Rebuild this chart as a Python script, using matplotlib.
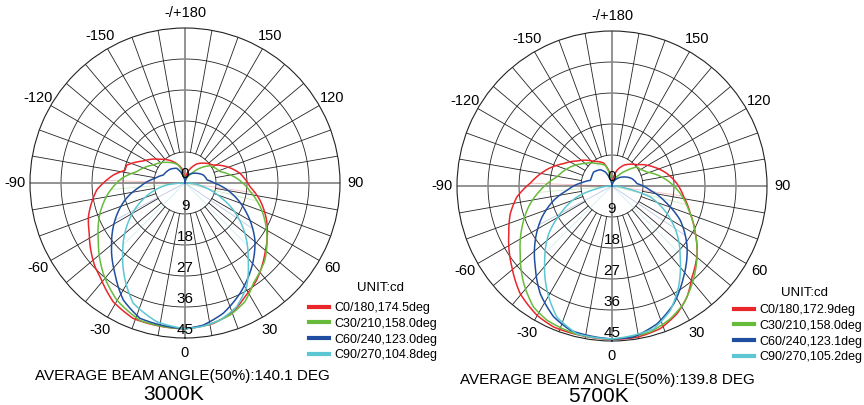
import numpy as np
import matplotlib.pyplot as plt

plt.rcParams['font.family'] = ['Liberation Sans', 'DejaVu Sans']

ring_values = [9, 18, 27, 36, 45]
angle_ticks = [0, 30, 60, 90, 120, 150, 180, -150, -120, -90, -60, -30]
angle_labels = ['0', '30', '60', '90', '120', '150', '-/+180',
                '-150', '-120', '-90', '-60', '-30']

series_names = ['C0/180', 'C30/210', 'C60/240', 'C90/270']
series_colors = ['#e8262b', '#67bb3b', '#1f4ea1', '#5cc6d3']

# ---- 3000K ----
warm_beam = [174.5, 158.0, 123.0, 104.8]
warm_avg = 140.1
warm_c0_ang = [-180, -167, -151, -133.5, -117.8, -107, -102, -96.4, -85.5, -70.8, -62.3,
               -47, -42.2, -31.1, -20.9, -10, 0, 11.4, 20.6, 27.8, 36.5, 48.7, 65.6,
               77.2, 86.7, 100, 111.4, 122.5, 148.4, 165, 180]
warm_c0_cd = [0, 4.4, 7.1, 10.0, 13.7, 17.7, 17.8, 20.9, 25.7, 29.7, 31.4,
              35.7, 36.7, 40.3, 42.1, 42.2, 42.3, 41.6, 39.9, 37.3, 35.0, 30.9, 26.0,
              22.3, 18.9, 16.2, 13.0, 9.7, 6.5, 3.5, 0]
warm_c30_ang = [-180, -170, -159.6, -138.5, -119.6, -103.2, -94.2, -82.3, -70.4, -56.7,
                -42.1, -30.3, -18, 0, 10, 18.8, 26.8, 34.3, 46.1, 58.4, 70.6, 81.2,
                95.2, 108, 118, 124.7, 145, 165, 180]
warm_c30_cd = [0, 2.5, 5.6, 8.0, 10.6, 14.4, 18.4, 22.5, 26.2, 30.1,
               35.4, 39.3, 42.0, 42.3, 41.6, 40.5, 38.6, 35.2, 32.2, 27.9, 23.6, 19.6,
               15.1, 10.7, 9.6, 8.8, 3.4, 1.0, 0]
warm_c60_ang = [-180, -170, -161, -150.5, -132.4, -110.2, -98.9, -85.3, -74.2, -62.1,
                -50.6, -37.8, -27.8, -18.4, 0, 7.3, 16.4, 26.5, 38.6, 50.8, 63.8, 76,
                89.4, 97.7, 113.6, 129.7, 157.6, 170, 180]
warm_c60_cd = [0, 1.5, 3.0, 4.9, 5.9, 6.7, 8.8, 13.1, 18.1, 23.0,
               27.6, 33.2, 38.4, 41.4, 42.3, 41.6, 39.4, 35.8, 31.1, 26.2, 20.0, 14.5,
               8.7, 6.5, 5.8, 4.4, 2.5, 1.0, 0]
warm_c90_ang = [-90, -83.8, -73.6, -63.9, -53.2, -41.5, -31.7, -23.3, -11.5, 0, 7.3,
                14.3, 22.7, 30.8, 39.4, 50, 60.8, 68.6, 78.6, 90]
warm_c90_cd = [0.5, 5.3, 10.6, 15.6, 21.2, 27.3, 33.1, 38.0, 41.1, 42.3, 41.9,
               41.1, 38.9, 35.0, 28.9, 22.7, 16.1, 10.9, 5.4, 0.5]

# ---- 5700K ----
cool_beam = [172.9, 158.0, 123.1, 105.2]
cool_avg = 139.8
cool_c0_ang = [-180, -168, -160, -143.4, -125.5, -114.8, -105.3, -92.1, -83.4, -74.8,
               -65.2, -51, -40.4, -30.1, -22.5, -12, 0, 9.4, 18.7, 27, 34, 41.3, 51.5,
               60.2, 70.5, 81.3, 92, 102.6, 114.5, 130.5, 150.6, 162.3, 180]
cool_c0_cd = [0, 4.6, 7.1, 8.9, 12.5, 15.5, 19.1, 23.7, 27.8, 30.6,
              33.0, 37.4, 41.1, 43.4, 44.3, 44.3, 44.5, 44.5, 43.7, 41.6, 38.9, 35.2, 31.6,
              27.9, 24.1, 21.1, 18.9, 16.4, 13.3, 9.5, 6.9, 4.8, 0]
cool_c30_ang = [-180, -169, -162.1, -146.1, -128.2, -114.5, -99.3, -86.5, -75.9, -65.5,
                -53.6, -42.1, -32.9, -25.8, -14.4, 0, 14.7, 23.7, 31.3, 39.3, 50.1, 60.2,
                72.4, 83.6, 95.9, 111.8, 120, 127.2, 136.2, 148, 165, 180]
cool_c30_cd = [0, 3.6, 6.3, 7.8, 10.5, 13.3, 16.2, 20.9, 25.0, 28.7,
               33.1, 38.2, 41.9, 43.3, 44.2, 44.4, 43.8, 42.1, 40.0, 36.7, 32.2, 27.9,
               23.4, 20.0, 16.1, 10.9, 9.6, 9.1, 6.3, 3.7, 1.2, 0]
cool_c60_ang = [-180, -165, -154.5, -144.5, -127.4, -110, -104.7, -98, -84.5, -76.2,
                -66.1, -54.7, -43.4, -33.6, -24, -16.1, 0, 8.2, 18.1, 27.7, 38.2, 50.9,
                63.3, 72.2, 83.6, 95.3, 110.1, 127.6, 145.7, 165, 180]
cool_c60_cd = [0, 2.0, 4.5, 5.8, 6.7, 6.4, 6.5, 8.3, 13.1, 17.4,
               22.2, 27.3, 32.4, 37.6, 41.6, 43.6, 44.4, 44.3, 42.1, 38.6, 33.6, 28.1,
               22.2, 16.8, 11.2, 7.3, 6.2, 4.3, 2.6, 1.0, 0]
cool_c90_ang = [-90, -80, -72.6, -61.8, -53, -42.2, -31.9, -22.8, -13.3, 0, 16.3,
                25.1, 33.4, 42.6, 53.7, 63.3, 74, 80, 90]
cool_c90_cd = [0.5, 4.4, 10.7, 17.0, 23.0, 29.1, 35.7, 41.3, 44.1, 44.4, 43.2,
               39.9, 35.1, 29.3, 23.4, 17.9, 11.6, 4.4, 0.5]

# faint rays from the centre to each curve
ray_angles = [(-92, 82), (-85, 76), (-62, 56), (-45, 45)]


def draw_panel(fig, rect, curves, beams, avg, cct, unit_xy, leg_xy, title_xy, cct_dy):
    ax = fig.add_axes(rect, projection='polar')
    ax.set_theta_zero_location('S')
    ax.set_theta_direction(1)
    ax.set_ylim(0, 45)
    ax.set_xticks([])
    ax.set_yticks([])
    ax.grid(False)
    ax.spines['polar'].set_linewidth(0.8)
    ax.spines['polar'].set_color('#222222')

    th = np.linspace(0, 2 * np.pi, 361)
    for v in ring_values[:-1]:
        ax.plot(th, np.full_like(th, v), color='#222222', lw=0.6, zorder=1)
    for a in range(0, 360, 10):
        t = np.deg2rad(a)
        if a % 90:
            ax.plot([t, t], [9, 45], color='#222222', lw=0.6, zorder=1)
        else:
            ax.plot([t, t], [0, 45], color='#8a8a8a', lw=1.3, zorder=1)

    for a, lab in zip(angle_ticks, angle_labels):
        ax.text(np.deg2rad(a), 49.4, lab, ha='center', va='center',
                fontsize=10.5, clip_on=False)
    ax.text(np.pi, 2.6, '0', ha='center', va='center', fontsize=11, zorder=5)
    for v in ring_values:
        ax.text(0, v - 2.4, str(v), ha='center', va='center', fontsize=11, zorder=5)

    handles = []
    for (ang, cd), col, rays, name, beam in zip(curves, series_colors, ray_angles,
                                               series_names, beams):
        t = np.deg2rad(ang)
        for ra in rays:
            rr = np.interp(ra, ang, cd)
            ax.plot([np.deg2rad(ra)] * 2, [0, rr], color=col, lw=0.6, alpha=0.3, zorder=2)
        ln, = ax.plot(t, cd, color=col, lw=1.1, zorder=3,
                      label='{},{:.1f}deg'.format(name, beam))
        # let the polar transform bend each segment
        ln.get_path()._interpolation_steps = 40
        handles.append(ln)

    fig.text(unit_xy[0] / 864, 1 - unit_xy[1] / 405, 'UNIT:cd',
             ha='center', va='center', fontsize=9.5)
    leg = fig.legend(handles=handles, loc='upper left',
                     bbox_to_anchor=(leg_xy[0] / 864, 1 - leg_xy[1] / 405),
                     frameon=False, fontsize=9,
                     handlelength=1.6, handletextpad=0.4, labelspacing=0.3,
                     borderpad=0, borderaxespad=0)
    for h in leg.legend_handles:
        h.set_linewidth(3)

    fig.text(title_xy[0] / 864, 1 - title_xy[1] / 405,
             'AVERAGE BEAM ANGLE(50%):{:.1f} DEG'.format(avg),
             ha='center', va='center', fontsize=11)
    fig.text((title_xy[0] - 8) / 864, 1 - (title_xy[1] + cct_dy) / 405, cct,
             ha='center', va='center', fontsize=15)


fig = plt.figure(figsize=(8.64, 4.05), dpi=100)

warm_curves = [(warm_c0_ang, warm_c0_cd), (warm_c30_ang, warm_c30_cd),
               (warm_c60_ang, warm_c60_cd), (warm_c90_ang, warm_c90_cd)]
cool_curves = [(cool_c0_ang, cool_c0_cd), (cool_c30_ang, cool_c30_cd),
               (cool_c60_ang, cool_c60_cd), (cool_c90_ang, cool_c90_cd)]

draw_panel(fig, [30 / 864, 67 / 405, 310 / 864, 310 / 405], warm_curves, warm_beam,
           warm_avg, '3000K', (380, 288), (309, 302), (182, 376), 18)
draw_panel(fig, [457 / 864, 64 / 405, 310 / 864, 310 / 405], cool_curves, cool_beam,
           cool_avg, '5700K', (805, 293), (734, 304), (607, 380), 16)

fig.savefig('out.png', dpi=100)
